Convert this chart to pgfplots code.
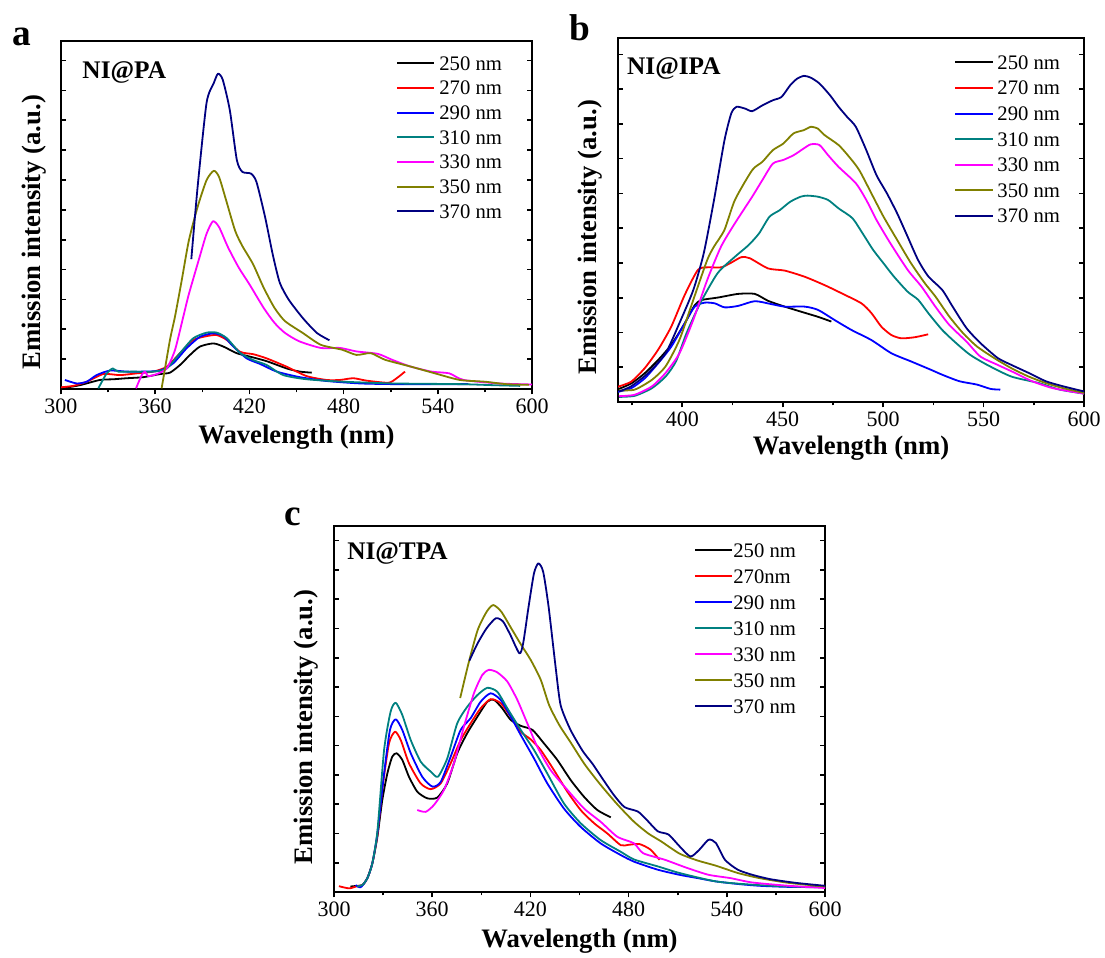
\documentclass[border=0pt]{standalone}
\usepackage{pgfplots}
\pgfplotsset{compat=1.18}
\usepackage{fontspec}
\setmainfont{Liberation Serif}
\definecolor{cred}{RGB}{255,0,0}
\definecolor{cblue}{RGB}{0,0,255}
\definecolor{cteal}{RGB}{0,128,128}
\definecolor{cmag}{RGB}{255,0,255}
\definecolor{colive}{RGB}{128,128,0}
\definecolor{cnavy}{RGB}{0,0,128}
\pgfplotsset{
  panel/.style={
    scale only axis,
    ymin=0, ymax=100,
    axis line style={line width=1.5pt},
    yticklabels={},
    xtick align=outside, ytick align=inside,
    xtick pos=left, ytick pos=both,
    major tick length=4pt, minor tick length=2.5pt,
    every tick/.style={black, line width=1.2pt},
    tick label style={font=\fontsize{16.5}{16.5}\selectfont},
    /pgf/number format/assume math mode=true,
    xlabel={Wavelength (nm)}, ylabel={Emission intensity (a.u.)},
    xlabel style={font=\bfseries\fontsize{20}{20}\selectfont, at={(axis description cs:0.5,0)}, anchor=center},
    ylabel style={font=\bfseries\fontsize{20}{20}\selectfont, anchor=center},
    legend cell align=left,
    legend image code/.code={\draw[#1, line width=1.4pt] (0pt,0pt) -- (28pt,0pt);},
    legend style={draw=none, fill=none, anchor=north west, inner sep=0pt,
      font=\fontsize{15.5}{15.5}\selectfont, column sep=3pt,
      nodes={inner sep=0pt, text height=10.5pt, text depth=0pt}},
    every axis plot/.append style={line width=1.35pt, smooth, tension=0.4, line join=round},
  }
}
\begin{document}
\begin{tikzpicture}
\path[use as bounding box] (0,0) rectangle (828.75pt,-717.75pt);
\node[anchor=base west, font=\bfseries\fontsize{28}{28}\selectfont, inner sep=0pt] at (9pt,-33.75pt) {a};
\node[anchor=base west, font=\bfseries\fontsize{28}{28}\selectfont, inner sep=0pt] at (426.75pt,-30pt) {b};
\node[anchor=base west, font=\bfseries\fontsize{28}{28}\selectfont, inner sep=0pt] at (213pt,-393.75pt) {c};

% ---------------- panel a
\begin{axis}[panel, at={(45.75pt,-291.75pt)}, anchor=south west, width=353.25pt, height=261pt,
  xmin=300, xmax=600, xtick={300,360,...,600}, minor xtick={330,390,...,570},
  ytick={0,8.58,...,100},
  xlabel style={yshift=-36pt},
  ylabel style={at={(axis description cs:-0.057,0.451)}},
  legend style={at={(0.711,0.957)}, row sep=8pt}]
\addplot[black] coordinates {(302,0.3)(312,1.1)(324.8,2.6)(333.3,2.8)(341.9,3.1)(352.4,3.4)(363.1,4.3)(369.4,4.7)(375.8,6.9)(382.2,9.8)(388.5,12.2)(397,13.1)(403.4,12.2)(411.9,10.3)(420.4,9.3)(431,8.0)(443.8,5.9)(452.2,5.0)(459.7,4.7)};
\addlegendentry{250 nm}
\addplot[cred] coordinates {(300,0.5)(307.8,0.9)(316.4,2.1)(327,4.3)(337.6,4.0)(348.2,4.5)(358.8,5.0)(367.3,6.4)(375.8,10.3)(384.3,14.1)(392.8,15.2)(399.2,15.5)(405.6,14.1)(414,10.7)(422.5,10)(431,8.8)(443.8,6.4)(456.5,3.7)(469.2,2.6)(477.7,2.6)(486.2,3.1)(494.7,2.4)(508.5,1.8)(513.8,3.1)(519.1,5.0)};
\addlegendentry{270 nm}
\addplot[cblue] coordinates {(302.5,2.6)(310,1.6)(316.4,2.1)(322.7,4.0)(331.2,5.3)(341.9,5.0)(352.4,5.0)(363.1,5.3)(371.5,7.4)(380,11.7)(388.5,15.0)(397,16.0)(403.4,15.2)(409.8,12.2)(418.3,8.8)(426.8,7.2)(437.4,5.0)(452.2,3.4)(469.2,2.3)(490.5,1.6)(511.7,1.4)(533,1.4)(559.5,1.4)};
\addlegendentry{290 nm}
\addplot[cteal] coordinates {(323.8,0.2)(329.1,4.5)(333,5.9)(336.5,5.0)(346.1,5.0)(358.8,5.0)(367.3,5.9)(375.8,10.3)(384.3,14.6)(392.8,16.2)(399.2,16.2)(405.6,14.6)(414,10.4)(422.5,8.3)(431,6.9)(441.6,4.0)(456.5,2.8)(479.8,2.1)(511.7,1.6)(554.2,1.4)(575.4,1.1)(592.4,0.9)};
\addlegendentry{310 nm}
\addplot[cmag] coordinates {(347.8,0.2)(351.4,4.0)(353.5,5.0)(355.6,3.7)(361,4.3)(367.3,5.9)(372.6,11.2)(377.9,20.8)(381.4,27.2)(388.2,37.8)(392.7,44.6)(396.8,48.2)(400.7,46.5)(406.4,40.7)(413.2,34.9)(420,30.1)(429.1,23.3)(436,19)(442.7,16.1)(451.8,13.7)(465.5,11.8)(477.7,11.8)(488.2,10.8)(501.8,10.1)(510.9,8.4)(522.3,6.5)(535.9,5)(547.3,4.5)(556.4,2.6)(579,1.6)(600,1.3)};
\addlegendentry{330 nm}
\addplot[colive] coordinates {(364.1,0.2)(369.4,14.1)(372.6,20.8)(376.8,31)(381.4,42.6)(387,52.3)(392.7,60)(397.3,62.7)(400.7,60.9)(405.2,54.2)(410.9,45.5)(415.5,41.1)(422.3,35.9)(429.1,29.1)(436,23.3)(442.7,19.5)(454,16.1)(465.5,12.7)(479,11.3)(488.2,9.8)(497.3,10.3)(506.4,8.4)(522.3,6.5)(538.2,4.5)(554,2.6)(570,2.1)(583.6,1.4)(598,1.2)};
\addlegendentry{350 nm}
\addplot[cnavy] coordinates {(383,37.3)(387,58)(392.7,82.2)(397.3,87.9)(400,90.6)(403,88.9)(407.5,80.2)(412,65.8)(415.5,62.4)(421,61.9)(424.5,59.5)(430,49.4)(434.8,38.8)(439.3,30.6)(445,25.7)(454,20.4)(463,16.1)(471,14.0)};
\addlegendentry{370 nm}
\node[anchor=west, inner sep=0pt, font=\bfseries\fontsize{19}{19}\selectfont] at (axis description cs:0.045,0.911) {NI@PA};
\end{axis}

% ---------------- panel b
\begin{axis}[panel, at={(463.5pt,-301.5pt)}, anchor=south west, width=349.5pt, height=273pt,
  xmin=368, xmax=600, xtick={400,450,...,600}, minor xtick={375,425,...,575},
  ytick={0,9.55,...,100},
  xlabel style={yshift=-35pt},
  ylabel style={at={(axis description cs:-0.060,0.453)}},
  legend style={at={(0.721,0.953)}, row sep=8.7pt}]
\addplot[black] coordinates {(368,3.5)(374.6,5.1)(381.3,7.9)(387.9,11.5)(394.5,15.7)(401.2,21.6)(406.2,26.6)(409.5,28.0)(417.8,28.7)(427.8,29.7)(436.1,29.7)(442.7,27.8)(451,26.2)(461,24.5)(467.6,23.4)(474.2,22.1)};
\addlegendentry{250 nm}
\addplot[cred] coordinates {(368,4.2)(374.6,5.6)(381.3,9.3)(387.9,14.3)(394.5,20.7)(401.2,29.4)(407.8,36.3)(412.8,37)(419.4,37)(424.4,38.3)(429.4,39.8)(433.6,39.5)(442.7,36.7)(451,36.1)(461,34.4)(470.9,32.1)(479.2,29.9)(489.2,27.1)(494.2,24.4)(499.1,20.7)(504.1,18.4)(509.1,17.5)(515.8,17.8)(522.4,18.6)};
\addlegendentry{270 nm}
\addplot[cblue] coordinates {(368,2.8)(374.6,3.8)(381.3,6.5)(387.9,10.6)(394.5,15.2)(401.2,21.6)(406.2,26.2)(411.2,27.3)(416.2,27.1)(421.1,26)(427.8,26.4)(436.1,27.7)(444.3,26.9)(451,26.2)(461,26.2)(467.6,25.3)(475.9,22.5)(484.2,19.8)(494.2,17.0)(504.1,13.4)(514.1,11.1)(524,8.8)(529.4,7.5)(538,5.7)(546.6,4.8)(553.5,3.6)(558.3,3.4)};
\addlegendentry{290 nm}
\addplot[cteal] coordinates {(368.5,1.4)(376.3,1.7)(384.9,3.8)(391.7,7.0)(396.9,11.2)(402.1,18.9)(408.9,27.1)(417.6,35.4)(426.2,39.9)(433,43.1)(438.2,46.3)(443.4,50.9)(448.5,52.7)(453.7,55)(458.9,56.4)(462.3,56.7)(467.5,56.4)(472.6,55.5)(477.8,53.2)(484.7,50.5)(489.8,46.3)(495,41.8)(500.2,38.1)(505.3,34.5)(512.2,30.3)(517.4,28.1)(522.5,24.4)(529.4,19.8)(536.3,16.2)(543.2,13)(551.8,10.2)(563.8,7.0)(577.6,5.2)(587.9,3.4)(600,2.3)};
\addlegendentry{310 nm}
\addplot[cmag] coordinates {(368.5,1.6)(376.3,2.0)(384.9,4.3)(391.7,8.0)(398.6,13.4)(405.5,22.6)(412.4,33.5)(419.3,42.7)(426.2,49.1)(434.8,56.4)(439.9,61)(445.1,65.5)(450.3,66.5)(455.4,67.8)(460.6,69.7)(464,70.8)(468.3,70.6)(472.6,67.8)(477.8,64.6)(486.4,60.1)(491.6,55.5)(496.7,50)(503.6,43.6)(512.2,36.3)(519.1,31.7)(526,26.2)(532.9,21.2)(541.5,16.6)(548.4,12.5)(557,10.2)(565.6,8.0)(574.2,5.7)(584.5,3.8)(600,2.3)};
\addlegendentry{330 nm}
\addplot[colive] coordinates {(368.5,3.2)(376.3,3.4)(384.9,6.1)(391.7,9.8)(398.6,17.1)(405.5,28.1)(412.4,39)(415.8,42.7)(421,47.3)(426.2,55.5)(434.8,63.7)(439.9,66)(445.1,69.2)(450.3,71)(455.4,73.8)(460.6,74.7)(464,75.6)(467.5,75.1)(470.9,73.3)(477.8,70.6)(483,67.4)(488.1,63.7)(495,56.4)(500.2,50.9)(507,44.5)(513.9,38.1)(520.8,32.6)(526,29)(532.9,23.5)(539.8,18.9)(546.6,15.3)(555.2,12.1)(563.8,9.3)(572.4,7.0)(581,5.2)(589.7,3.8)(600,2.5)};
\addlegendentry{350 nm}
\addplot[cnavy] coordinates {(368.5,2.9)(374.5,4.3)(383.1,8)(391.7,13.4)(398.6,21.7)(405.5,30.8)(410.7,40.9)(415.8,55.5)(421,71.9)(424.4,79.3)(427,81.1)(431.3,80.6)(434.8,79.9)(439.9,81.5)(445.1,82.9)(449.4,83.8)(453.7,87)(457.1,88.8)(460.6,89.6)(464,89.1)(468.3,87.5)(473.5,84.3)(477.8,81.1)(482.1,78.3)(486.4,75.6)(491.6,69.2)(496.7,62.3)(501.9,57.3)(507,51.8)(512.2,45.4)(517.4,39)(522.5,34.5)(529.4,30.8)(534.6,26.2)(541.5,20.3)(548.4,16.2)(557,12.1)(563.8,10.2)(572.4,8.0)(581,5.7)(589.7,4.3)(600,2.9)};
\addlegendentry{370 nm}
\node[anchor=west, inner sep=0pt, font=\bfseries\fontsize{19}{19}\selectfont] at (axis description cs:0.019,0.915) {NI@IPA};
\end{axis}

% ---------------- panel c
\begin{axis}[panel, at={(250.5pt,-669pt)}, anchor=south west, width=368.25pt, height=274.5pt,
  xmin=300, xmax=600, xtick={300,360,...,600}, minor xtick={330,390,...,570},
  ytick={0,8,...,100},
  xlabel style={yshift=-37pt},
  ylabel style={at={(axis description cs:-0.057,0.451)}},
  legend style={at={(0.733,0.954)}, row sep=9pt, column sep=0pt}]
\addplot[black] coordinates {(310,1.5)(312.2,1.6)(317.3,1.9)(320.3,3.7)(323.4,7.8)(326.5,15.1)(329.5,25.1)(332.6,32.4)(335.6,37)(338.3,37.9)(341.7,36.1)(345.8,31.5)(350.9,27.4)(357,25.6)(363.1,25.8)(369.2,29.7)(375.3,37.9)(381.4,43.4)(387.6,47.9)(393.7,52)(397.8,52.5)(402.8,50.2)(408,47)(414.1,45.4)(421.2,44.3)(428.3,40.6)(436.4,36.1)(444.6,30.6)(452.8,26)(460.9,22.4)(469.1,20.4)};
\addlegendentry{250 nm}
\addplot[cred] coordinates {(303,1.6)(309.2,1.0)(314.2,1.6)(317.3,1.9)(320.3,3.7)(323.4,7.8)(326.5,15.5)(329.5,28)(333.6,40.6)(337.3,43.8)(340.8,41.5)(345.8,35.2)(352.9,29.7)(359.1,28.1)(365.2,29.7)(371.3,35.2)(377.4,41.5)(383.5,46.1)(389.6,50.2)(395.7,52.7)(401.8,51.6)(408,47.9)(414.1,43.8)(420.2,41.7)(426.3,38.8)(434.4,33.3)(442.6,27.4)(450.7,22.4)(458.9,18.8)(467,16)(475.2,12.8)(480,12.9)(486.7,13.1)(493.3,11.6)(498.9,8.8)};
\addlegendentry{270nm}
\addplot[cblue] coordinates {(313.2,1.9)(316.3,1.3)(320.3,3.7)(323.4,7.8)(326.5,16)(330.6,32.4)(334.2,44.3)(337.7,47.2)(341.7,44.3)(346.9,37.9)(353.9,31.5)(360.1,28.8)(365.2,30.1)(371.3,37)(377.4,44.3)(383.5,47.5)(389.6,52)(395.7,54.3)(401.8,52.5)(408,47.9)(414.1,42.9)(422.2,36.5)(430.3,29.7)(440.5,22.8)(450.7,17.8)(462.9,13.3)(475.2,10.1)(483.3,8.3)(497.8,6.1)(511.1,4.7)(522.2,3.8)(533.3,2.9)(546.7,2.2)(560,1.7)(577.8,1.4)(600,1.3)};
\addlegendentry{290 nm}
\addplot[cteal] coordinates {(314,1.5)(317.3,1.9)(320.3,3.7)(323.4,7.8)(326.5,16.5)(330.6,38.8)(334.6,49.3)(337.7,51.7)(341.7,48.4)(346.9,41.5)(353,35.6)(359.1,32.9)(363.5,31.5)(369.2,36.5)(375.3,46.1)(381.4,50.6)(387.6,53.8)(393.7,55.8)(399.8,54.7)(405.9,50.2)(414.1,44.3)(422.2,38.8)(430.3,32.4)(440.5,24.2)(450.7,18.8)(462.9,14.2)(475.2,11)(483.3,8.9)(497.8,7.0)(511.1,5.2)(533.3,2.9)(555.6,2.0)(577.8,1.5)(600,1.4)};
\addlegendentry{310 nm}
\addplot[cmag] coordinates {(350.9,22.4)(356,21.9)(361.1,23.8)(367.2,27.9)(373.3,35.2)(379.4,45.2)(385.5,54.3)(390.6,59.3)(394.7,60.7)(399.8,60)(405.9,57.5)(412,52.5)(418.1,46.1)(424.2,39.7)(432.4,33.3)(442.6,27.9)(452.8,22.8)(462.9,19.2)(473.1,15.1)(483.3,13.3)(488.9,10.6)(502.2,8.8)(515.6,6.6)(528.9,4.7)(542.2,3.8)(555.6,2.6)(577.8,1.7)(600,1.1)};
\addlegendentry{330 nm}
\addplot[colive] coordinates {(377.1,53)(382.2,62.5)(387.8,71.6)(393.3,76.6)(397.3,78.4)(402.2,76.6)(408.9,71.6)(414.4,67.5)(420.2,63.4)(426.3,58)(431.5,51)(437.8,45.5)(444.4,41)(453,35)(462.5,29.5)(473,24)(483.3,19.2)(492,16)(500,13.8)(511.1,10.5)(522.2,8.6)(533.3,7.2)(546.7,5.2)(560,3.8)(577.8,2.5)(600,1.5)};
\addlegendentry{350 nm}
\addplot[cnavy] coordinates {(382.7,63.2)(387.8,68)(393.3,72.1)(398.9,74.8)(403.3,73.9)(407.8,70.2)(413.3,65.2)(415.6,68)(418.9,78)(422.2,87.1)(424.9,89.8)(427.8,87.5)(431.1,78)(435.6,60.7)(438.5,51)(444.5,44.3)(452,38.5)(458,35)(464,31)(471,26.5)(477.5,23.2)(485.6,22)(491.1,19.7)(497.8,16.6)(504.4,15.7)(511.1,12.5)(517.8,9.7)(523.3,11.6)(528.9,14.3)(533.3,13.4)(538.9,8.8)(546.7,6.1)(555.6,4.7)(566.7,3.5)(582.2,2.5)(600,1.7)};
\addlegendentry{370 nm}
\node[anchor=west, inner sep=0pt, font=\bfseries\fontsize{19}{19}\selectfont] at (axis description cs:0.0265,0.926) {NI@TPA};
\end{axis}
\end{tikzpicture}
\end{document}
